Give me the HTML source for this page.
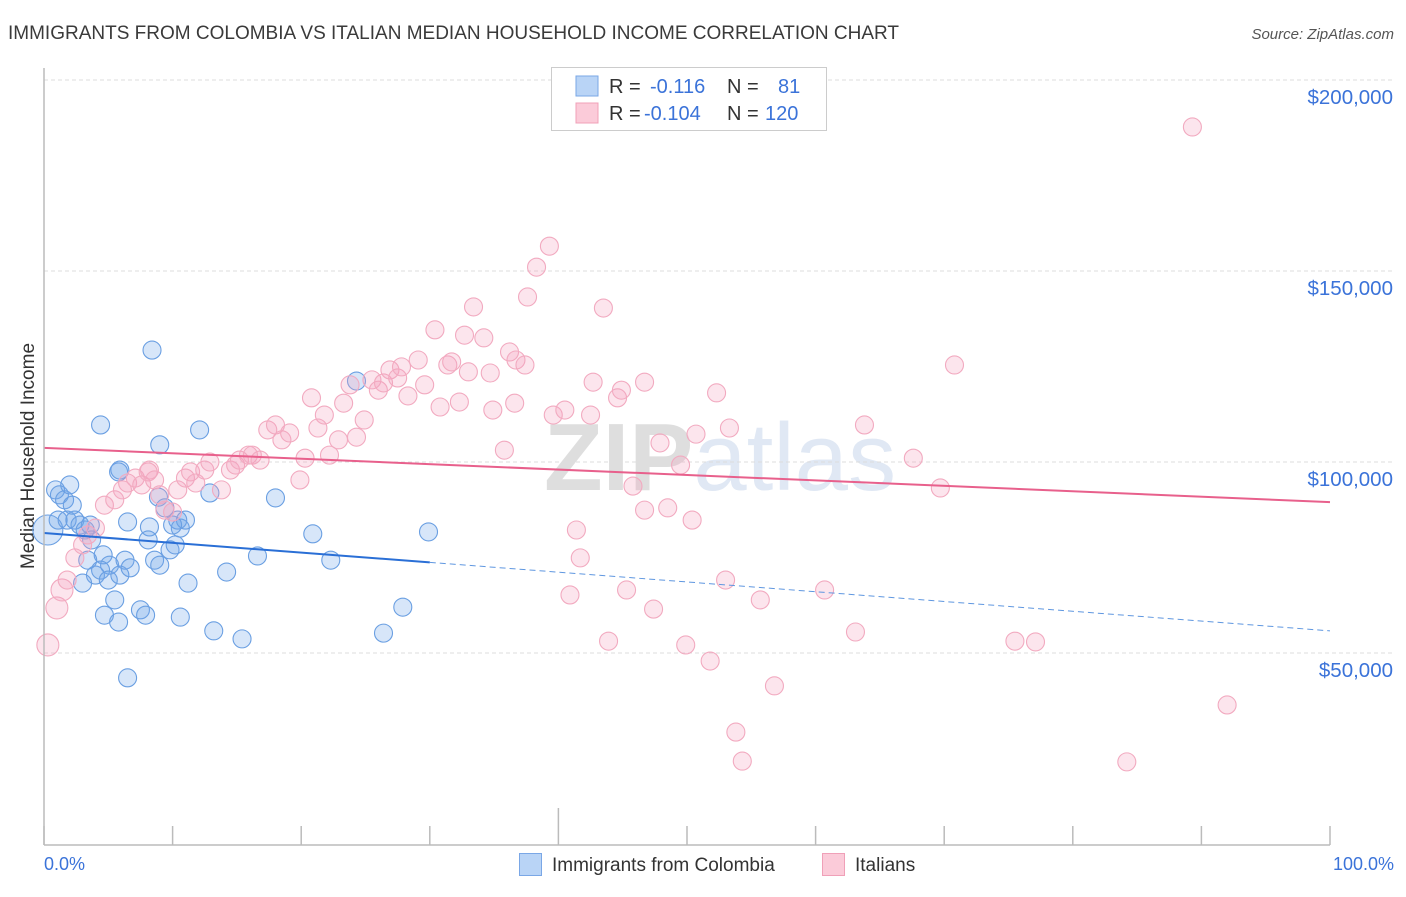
<!DOCTYPE html>
<html><head><meta charset="utf-8"><style>
body{margin:0;background:#fff;font-family:"Liberation Sans",sans-serif}
svg text{font-family:"Liberation Sans",sans-serif}
</style></head><body>
<svg id="c" width="1406" height="892" viewBox="0 0 1406 892" xmlns="http://www.w3.org/2000/svg">
<text x="8" y="39" font-size="19" fill="#3a3a3a">IMMIGRANTS FROM COLOMBIA VS ITALIAN MEDIAN HOUSEHOLD INCOME CORRELATION CHART</text>
<text x="1394" y="39" font-size="15" fill="#555" font-style="italic" text-anchor="end">Source: ZipAtlas.com</text>
<text x="720" y="490" font-size="96" fill="#e6e6e6" text-anchor="middle" font-family="Liberation Serif"><tspan font-weight="bold" fill="#dedede">ZIP</tspan><tspan fill="#e0e8f4" font-family="Liberation Sans">atlas</tspan></text>
<text transform="translate(34,456) rotate(-90)" font-size="19" fill="#333" text-anchor="middle">Median Household Income</text>
<g id="grid"></g><g id="pts"></g><g id="lines"></g>
<line x1="44" y1="68" x2="44" y2="845" stroke="#bbb" stroke-width="1.5"/>
<line x1="44" y1="845" x2="1330" y2="845" stroke="#bbb" stroke-width="1.5"/>
<text x="44" y="870" font-size="18" fill="#3b73d9">0.0%</text>
<text x="1394" y="870" font-size="18" fill="#3b73d9" text-anchor="end">100.0%</text>
<g>
<rect x="551.5" y="67.5" width="275" height="63" fill="#fff" stroke="#ccc"/>
<rect x="576" y="76" width="22" height="20" fill="#b9d4f6" stroke="#7aa7e6"/>
<rect x="576" y="103" width="22" height="20" fill="#fbcbd9" stroke="#f0a0b8"/>
<text x="609" y="93" font-size="20" fill="#333">R = <tspan fill="#3b73d9" x="650">-0.116</tspan><tspan x="727" fill="#333">N =</tspan><tspan x="778" fill="#3b73d9">81</tspan></text>
<text x="609" y="120" font-size="20" fill="#333">R = <tspan fill="#3b73d9" x="644">-0.104</tspan><tspan x="727" fill="#333">N =</tspan><tspan x="765" fill="#3b73d9">120</tspan></text>
</g>
<g>
<rect x="519.5" y="853.5" width="22" height="22" fill="#b9d4f6" stroke="#7aa7e6"/>
<text x="552" y="871" font-size="19" fill="#333">Immigrants from Colombia</text>
<rect x="822.5" y="853.5" width="22" height="22" fill="#fbcbd9" stroke="#f0a0b8"/>
<text x="855" y="871" font-size="19" fill="#333">Italians</text>
</g>
</svg>
<script>
const yTicks=[50,100,150,200];
const yTickLabels=["$50,000","$100,000","$150,000","$200,000"];
const xTicks=[0,10,20,30,40,50,60,70,80,90,100];
const blueX=[0.3,0.9,1.2,1.6,2.0,1.1,1.8,2.4,2.8,3.2,3.6,2.2,4.4,5.8,4.6,5.1,3.4,4.0,4.4,5.0,5.9,6.3,6.7,5.5,4.7,5.8,7.5,7.9,6.5,8.4,9.0,8.9,9.4,8.2,8.1,8.6,9.0,9.8,10.2,10.4,10.6,11.0,10.0,12.1,12.9,11.2,10.6,13.2,14.2,15.4,16.6,18.0,20.9,22.3,24.3,26.4,27.9,29.9,6.5,3.7,3.0,5.9];
const blueY=[82.2,92.7,91.4,90.1,94.0,84.8,84.8,84.8,83.5,82.2,83.5,88.7,109.7,97.4,75.7,73.0,74.3,70.4,71.7,69.1,70.4,74.3,72.3,63.9,59.9,58.1,61.3,59.9,43.5,129.3,104.5,90.8,88.0,83.0,79.6,74.3,73.0,77.0,78.3,84.8,82.7,84.8,83.5,108.4,91.9,68.3,59.4,55.8,71.2,53.7,75.4,90.6,81.2,74.3,121.2,55.2,62.0,81.7,84.3,79.6,68.3,97.9];
const pinkX=[0.3,1.0,1.4,1.8,2.4,3.0,3.4,4.0,4.7,5.5,6.1,6.5,7.1,7.6,8.1,8.2,8.6,9.0,9.4,10.0,10.4,11.0,11.4,11.8,12.5,12.9,13.8,14.5,14.9,15.2,15.9,16.2,16.8,17.4,18.0,18.5,19.1,19.9,20.3,20.8,21.3,21.8,22.2,22.9,23.3,23.8,24.3,24.9,25.5,26.0,26.4,26.9,27.5,27.8,28.3,29.1,29.6,30.4,30.8,31.4,31.7,32.3,32.7,33.0,33.4,34.2,34.7,34.9,35.8,36.2,36.7,37.4,37.6,38.3,39.3,36.6,39.6,40.5,41.4,41.7,40.9,42.5,42.7,43.5,43.9,44.6,44.9,45.3,45.8,46.7,46.7,47.4,47.9,48.5,49.5,49.9,50.4,50.7,51.8,52.3,53.3,53.0,53.8,54.3,55.7,56.8,60.7,63.1,63.8,67.6,69.7,70.8,75.5,77.1,84.2,89.3,92.0];
const pinkY=[52.1,61.8,66.5,69.1,74.9,78.3,80.9,82.7,88.7,90.1,92.7,94.5,95.8,94.0,97.4,97.9,95.3,91.4,87.4,86.9,92.7,95.8,97.4,94.5,97.9,100.0,92.7,97.9,99.2,100.5,101.8,101.8,100.5,108.4,109.7,105.8,107.6,95.3,101.0,116.8,108.9,112.3,101.8,105.8,115.4,120.2,106.5,111.0,121.5,118.8,120.7,124.1,122.0,124.9,117.3,126.7,120.2,134.6,114.4,125.4,126.2,115.7,133.2,123.6,140.6,132.5,123.3,113.6,103.1,128.8,126.7,125.4,143.2,151.0,156.5,115.4,112.3,113.6,82.2,74.9,65.2,112.3,120.9,140.3,53.1,116.8,118.8,66.5,93.7,120.9,87.4,61.5,105.0,88.0,99.2,52.1,84.8,107.3,47.9,118.1,108.9,69.1,29.3,21.7,63.9,41.4,66.5,55.5,109.7,101.0,93.2,125.4,53.1,52.9,21.5,187.7,36.4];
const blueTrend=[81.4,55.8];
const pinkTrend=[103.7,89.5];
const NS='http://www.w3.org/2000/svg';
const X=v=>44+v*12.86, Y=v=>844-v*3.82;
function mk(t,a,p){const e=document.createElementNS(NS,t);for(const k in a)e.setAttribute(k,a[k]);p.appendChild(e);return e;}
const grid=document.getElementById('grid'),pts=document.getElementById('pts'),lines=document.getElementById('lines');
yTicks.forEach((v,i)=>{
 const l=mk('line',{x1:44,x2:1393,y1:Y(v),y2:Y(v),stroke:'#ddd','stroke-dasharray':'4,3'},grid);
 
 
 const t=mk('text',{x:1393,y:Y(v)+24,'font-size':20.5,fill:'#3b73d9','text-anchor':'end'},grid);
 t.textContent=yTickLabels[i];
 
 
});
xTicks.forEach(v=>{
 const l=mk('line',{x1:X(v),x2:X(v),y1:v===40?808:826,y2:845,stroke:'#bbb','stroke-width':1.5},grid);
 
 
});
blueX.forEach((x,i)=>{
 const c=mk('circle',{cx:X(x),cy:Y(blueY[i]),r:i===0?15:9,fill:'rgba(110,165,235,0.28)',stroke:'#6a9fe2','stroke-width':1.1},pts);
 
 
});
pinkX.forEach((x,i)=>{
 const c=mk('circle',{cx:X(x),cy:Y(pinkY[i]),r:i<3?11:9,fill:'rgba(245,160,190,0.28)',stroke:'#f2aac0','stroke-width':1.1},pts);
 
 
});
const bAt=x=>blueTrend[0]+(blueTrend[1]-blueTrend[0])*x/100;
const pl=mk('line',{x1:X(0),y1:Y(pinkTrend[0]),x2:X(100),y2:Y(pinkTrend[1]),stroke:'#e8608c','stroke-width':2},lines);


const bl=mk('line',{x1:X(0),y1:Y(bAt(0)),x2:X(30),y2:Y(bAt(30)),stroke:'#2a6fd6','stroke-width':2},lines);


const bd=mk('line',{x1:X(30),y1:Y(bAt(30)),x2:X(100),y2:Y(bAt(100)),stroke:'#5f97e0','stroke-width':1,'stroke-dasharray':'6,4'},lines);


</script>
</body></html>
